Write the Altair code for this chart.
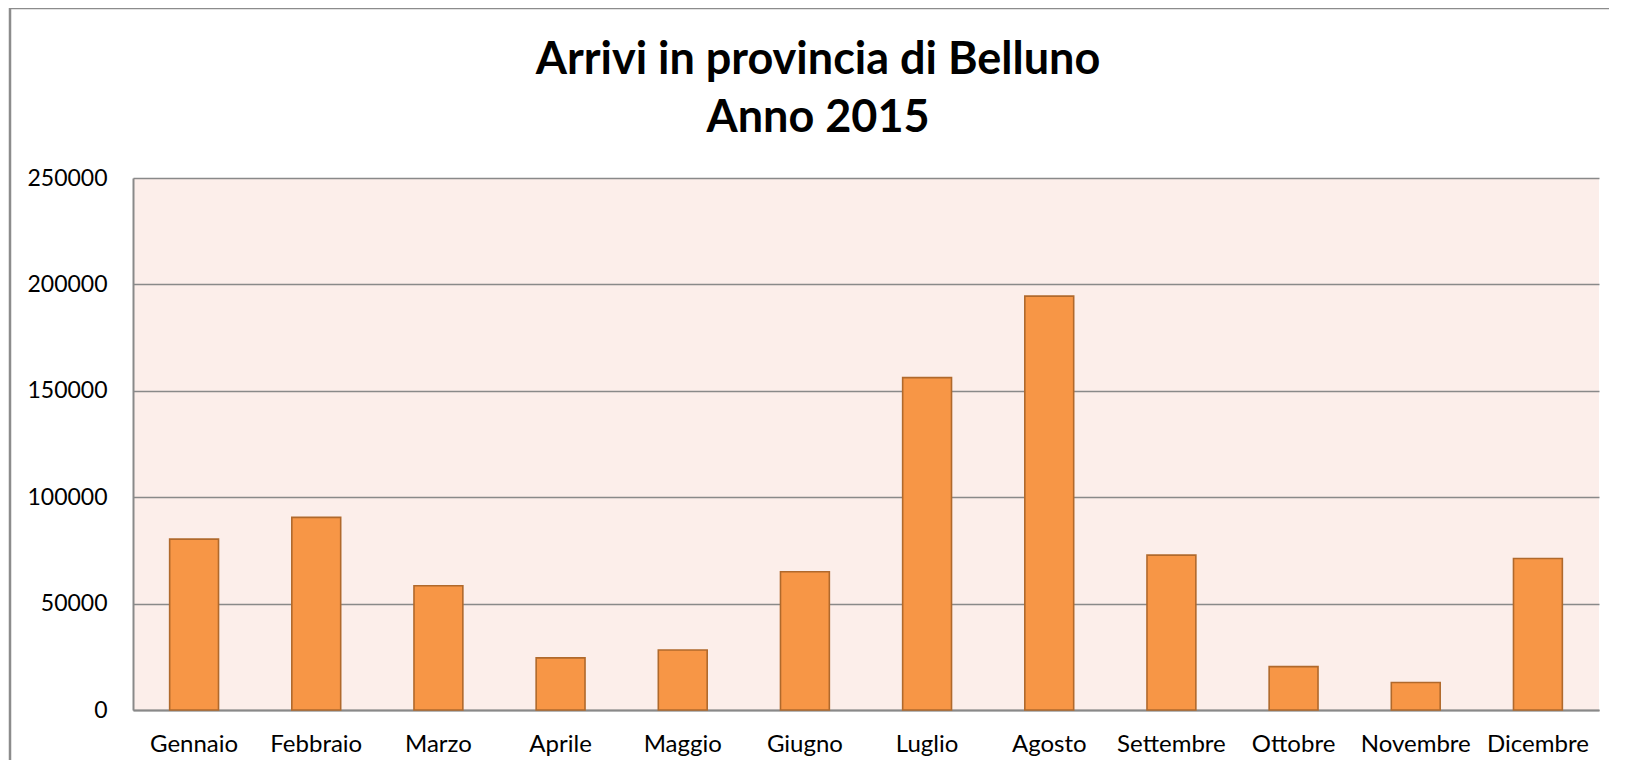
import altair as alt
import pandas as pd

months = ["Gennaio", "Febbraio", "Marzo", "Aprile", "Maggio", "Giugno",
          "Luglio", "Agosto", "Settembre", "Ottobre", "Novembre", "Dicembre"]
arrivals = [80300, 90500, 58400, 24500, 28200, 65000,
            156200, 194500, 72800, 20400, 12900, 71200]
y_ticks = [0, 50000, 100000, 150000, 200000, 250000]
title_lines = ["Arrivi in provincia di Belluno", "Anno 2015"]

df = pd.DataFrame({"Mese": months, "Arrivi": arrivals})

FONT = "Lato"
W, H = 1466, 532

bars = alt.Chart(df).mark_bar(
    color="#F79646", stroke="#B0692C", strokeWidth=1.6
).encode(
    x=alt.X("Mese:N", sort=months, title=None,
            scale=alt.Scale(paddingInner=0.6, paddingOuter=0.3),
            axis=alt.Axis(labelAngle=0, labelFont=FONT, labelFontSize=24,
                          labelColor="#000000", labelPadding=22, ticks=False,
                          domainColor="#898989", domainWidth=2)),
    y=alt.Y("Arrivi:Q", title=None,
            scale=alt.Scale(domain=[0, 250000], nice=False),
            axis=alt.Axis(values=y_ticks, format="d", labelFont=FONT,
                          labelFontSize=23, labelColor="#000000",
                          labelPadding=26, ticks=False,
                          domainColor="#898989", domainWidth=2,
                          gridColor="#898989", gridWidth=1.4)),
)

border = alt.Chart(pd.DataFrame({"k": [0]})).mark_rect(
    fillOpacity=0, stroke="#8c8c8c", strokeWidth=2.5
).encode(
    x=alt.value(-123), x2=alt.value(W + 60),
    y=alt.value(-170), y2=alt.value(H + 120),
)

chart = alt.layer(border, bars).properties(
    width=W, height=H,
    title=alt.TitleParams(
        text=title_lines, font=FONT, fontSize=45, fontWeight="bold",
        color="#000000", anchor="middle", frame="group", dx=-48,
        lineHeight=58, offset=-134,
    ),
    autosize=alt.AutoSizeParams(type="none"),
    padding={"left": 125, "top": 170, "right": 10, "bottom": 50},
    background="#FFFFFF",
).configure_view(
    fill="#FCEEEA", stroke=None
)

chart.save("out.html", embed_options={"renderer": "svg", "actions": False})
